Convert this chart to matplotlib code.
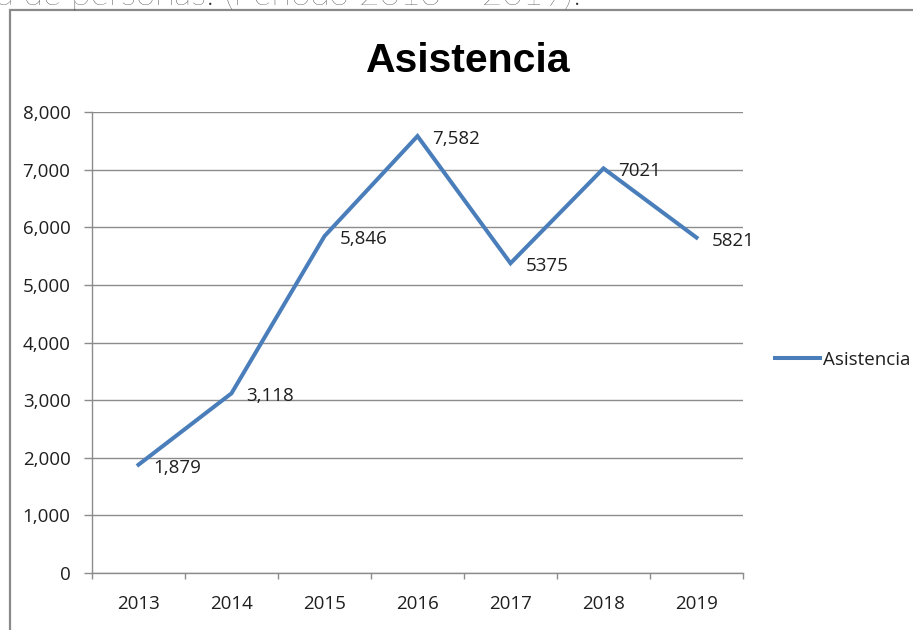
import matplotlib
matplotlib.use("Agg")
import matplotlib.pyplot as plt
from matplotlib.patches import Rectangle
from matplotlib.ticker import FixedLocator, FuncFormatter

years = ["2013", "2014", "2015", "2016", "2017", "2018", "2019"]
asistencia = [1879, 3118, 5846, 7582, 5375, 7021, 5821]
point_labels = ["1,879", "3,118", "5,846", "7,582", "5375", "7021", "5821"]
y_ticks = [0, 1000, 2000, 3000, 4000, 5000, 6000, 7000, 8000]

W, H = 913, 630
LINE_BLUE = "#4a7ebb"
GRID_GRAY = "#8c8c8c"
TEXT = "#1f1f1f"
body_font = ["Open Sans", "DejaVu Sans"]
title_font = ["Liberation Sans Narrow", "Liberation Sans", "DejaVu Sans"]


def px_x(x: float) -> float:
    return x / W


def px_y(y: float) -> float:
    return 1 - y / H


fig = plt.figure(figsize=(W / 100, H / 100), dpi=100)

# caption of the document, cut off at the top of the picture
fig.text(px_x(-3), px_y(5), "a de personas. (Periodo 2013 \u2013 2019).",
         family=["Lato", "DejaVu Sans"], fontweight="light", fontsize=25.5,
         color="#2e2e2e", va="baseline", ha="left")

# outer chart frame
fig.patches.append(Rectangle((px_x(10), px_y(700)), px_x(1000), px_y(10) - px_y(700),
                             transform=fig.transFigure, fill=False,
                             edgecolor="#8a8a8a", linewidth=1.6))

ax = fig.add_axes([px_x(92), px_y(573), px_x(743 - 92), px_y(112) - px_y(573)])
x = list(range(1, len(years) + 1))
line, = ax.plot(x, asistencia, color=LINE_BLUE, linewidth=2.9,
                solid_joinstyle="miter", label="Asistencia")

for xi, yi, lab in zip(x, asistencia, point_labels):
    ax.annotate(lab, (xi, yi), xytext=(15, -3), textcoords="offset pixels",
                ha="left", va="center", fontsize=13.5, family=body_font, color=TEXT)

ax.set_xlim(0.5, len(years) + 0.5)
ax.set_ylim(0, 8000)
ax.set_yticks(y_ticks)
ax.yaxis.set_major_formatter(FuncFormatter(lambda v, _: f"{int(v):,}"))
ax.grid(axis="y", color=GRID_GRAY, linewidth=1)
ax.set_axisbelow(True)

ax.xaxis.set_major_locator(FixedLocator([i + 0.5 for i in range(len(years) + 1)]))
ax.xaxis.set_minor_locator(FixedLocator(x))
ax.set_xticklabels([])
ax.set_xticklabels(years, minor=True)
ax.tick_params(axis="x", which="major", length=4.5, color=GRID_GRAY, width=1)
ax.tick_params(axis="x", which="minor", length=0, pad=16)
ax.tick_params(axis="y", length=6, color=GRID_GRAY, width=1, pad=9.5)
for lab in ax.get_xticklabels(minor=True) + ax.get_yticklabels():
    lab.set_fontfamily(body_font)
    lab.set_fontsize(13.5)
    lab.set_color(TEXT)

for side in ("top", "right"):
    ax.spines[side].set_visible(False)
for side in ("left", "bottom"):
    ax.spines[side].set_color(GRID_GRAY)
    ax.spines[side].set_linewidth(1)

fig.text(px_x(468), px_y(72), "Asistencia", family=title_font, fontweight="bold",
         fontsize=29.5, ha="center", va="baseline", color="black")

fig.legend(handles=[line], loc="center left", bbox_to_anchor=(px_x(766), px_y(360)),
           frameon=False, borderpad=0, handlelength=2.4, handletextpad=0.15,
           prop={"family": body_font, "size": 13.5}, labelcolor=TEXT)

fig.savefig("out.png", dpi=100)
